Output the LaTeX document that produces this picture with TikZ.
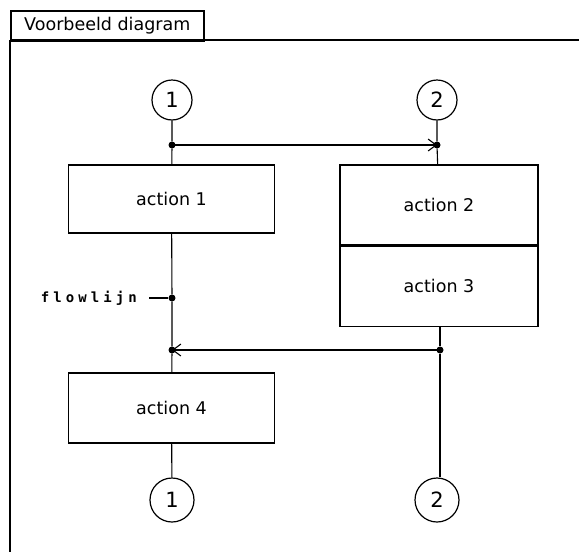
\documentclass[tikz,border=0pt]{standalone}
\usepackage{fontspec}
\setmainfont{DejaVu Sans}
\newfontfamily\labelmono[LetterSpace=29]{DejaVu Sans Mono Bold}
\usetikzlibrary{arrows.meta}
\begin{document}
\begin{tikzpicture}[x=1pt,y=-1pt,
  actionbox/.style={draw,line width=1.3pt,minimum width=206pt,inner sep=0pt,font=\fontsize{17.5}{20}\selectfont},
  connector/.style={draw,circle,line width=1.2pt,minimum size=40pt,inner sep=0pt,font=\fontsize{21}{24}\selectfont},
  flow/.style={line width=1.1pt},
  jdot/.style={circle,fill,inner sep=0pt,minimum size=7pt},
  barb/.style={-{Straight Barb[length=8pt,width=12pt,line width=1.1pt]}}]
\useasboundingbox (0,0) rectangle (579,552);
\fill[white] (0,0) rectangle (579,552);

% frame with title tab
\node[draw,line width=1.6pt,anchor=north west,minimum width=193pt,minimum height=30pt,inner sep=3pt,
      font=\fontsize{17.5}{20}\selectfont] (title) at (10,10) {Voorbeeld diagram};
\draw[line width=1.8pt] (10,40) -- (10,552);
\draw[line width=1.8pt] (10,40) -- (579,40);

% connectors at the top
\node[connector] (c1top) at (172,100) {1};
\node[connector] (c2top) at (437,100) {2};

% action boxes
\node[actionbox,minimum height=68pt] (a1) at (171.5,199) {action 1};
\node[actionbox,minimum width=198pt,minimum height=80pt] (a2) at (439,205) {action 2};
\node[actionbox,minimum width=198pt,minimum height=80pt,anchor=north] (a3) at (a2.south) {action 3};
\node[actionbox,minimum height=70pt] (a4) at (171.5,408) {action 4};

% connectors at the bottom
\node[connector,minimum size=44pt] (c1bot) at (172,500) {1};
\node[connector,minimum size=44pt] (c2bot) at (437,500) {2};

% junction points
\node[jdot] (j1) at (172,145) {};
\node[jdot] (j2) at (437,145) {};
\node[jdot] (j3) at (172,298) {};
\node[jdot] (j4) at (172,350) {};
\node[jdot] (j5) at (440,350) {};

% flow lines
\draw[flow] (c1top) -- (j1) -- (a1);
\draw[flow] (c2top) -- (j2) -- (a2);
\draw[flow] (a1) -- (j3) -- (j4) -- (a4);
\draw[flow] (a4) -- (c1bot);
\draw[flow] (a3.south -| j5) -- (j5) -- (c2bot.north -| j5);
\draw[flow,barb] (j1.center) -- (j2.center);
\draw[flow,barb] (j5.center) -- (j4.center);

% label of a flow line
\node[font=\labelmono\fontsize{14}{16}\selectfont,anchor=east,inner sep=0pt] (fl) at (137,298) {flowlijn};
\draw[line width=1.6pt] (fl.east) ++(12,0) coordinate (flx) -- (j3);
\end{tikzpicture}
\end{document}
